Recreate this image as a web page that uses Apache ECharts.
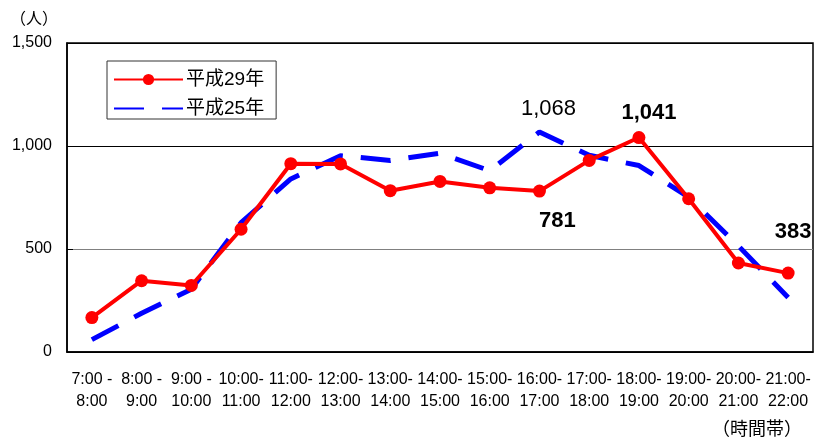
<!DOCTYPE html>
<html><head><meta charset="utf-8">
<script src="https://cdn.jsdelivr.net/npm/echarts@6/dist/echarts.min.js"></script>
<style>html,body{margin:0;padding:0;background:#fff}#c{width:817px;height:442px}</style>
</head><body><div id="c"></div>
<script>
const categories = ['7:00 -\n8:00','8:00 -\n9:00','9:00 -\n10:00','10:00-\n11:00','11:00-\n12:00','12:00-\n13:00','13:00-\n14:00','14:00-\n15:00','15:00-\n16:00','16:00-\n17:00','17:00-\n18:00','18:00-\n19:00','19:00-\n20:00','20:00-\n21:00','21:00-\n22:00'];
const seriesNames = ['平成29年','平成25年'];
const h29 = [167, 346, 323, 596, 914, 913, 783, 828, 797, 781, 930, 1041, 744, 432, 383];
const h25 = [60, 188, 305, 628, 840, 953, 930, 965, 880, 1068, 955, 905, 752, 515, 265];
const yTicks = [0, 500, 1000, 1500];

const FONT = '"Liberation Sans", Arial, "Noto Sans CJK JP", sans-serif';
const fmt = v => v.toLocaleString('en-US');

const labelH29 = {
  9: {position: 'bottom', distance: 12, offset: [18, 0]},
  11: {position: 'top', distance: 7, offset: [10, 0]},
  14: {position: 'top', distance: 24, offset: [5, 0]}
};
const h25LabelIdx = 9;

function build(vals, cfg, bold) {
  return vals.map((v, i) => {
    if (!cfg[i]) return v;
    return {value: v, label: Object.assign({show: true, formatter: fmt(v), color: '#000', fontSize: 22, fontWeight: bold ? 'bold' : 'normal', fontFamily: FONT}, cfg[i])};
  });
}

const chart = echarts.init(document.getElementById('c'), null, {renderer: 'canvas'});
chart.setOption({
  animation: false,
  backgroundColor: '#fff',
  textStyle: {fontFamily: FONT},
  grid: {left: 67, right: 4, top: 43, bottom: 90, show: true, borderColor: '#000', borderWidth: 1.5, backgroundColor: 'transparent'},
  graphic: [
    {type: 'text', left: 10, top: 12, style: {text: '（人）', font: '16px ' + FONT, fill: '#000'}},
    {type: 'text', left: 712, top: 421, style: {text: '（時間帯）', font: '18px ' + FONT, fill: '#000'}}
  ],
  legend: {
    data: seriesNames,
    orient: 'vertical',
    left: 107, top: 61,
    padding: [9, 12, 1, 6],
    itemGap: 10,
    itemWidth: 69, itemHeight: 14,
    borderColor: '#333', borderWidth: 1,
    textStyle: {fontSize: 19, color: '#000', fontFamily: FONT, padding: [0, 0, 0, -2]}
  },
  xAxis: {
    type: 'category',
    data: categories,
    boundaryGap: true,
    axisLine: {lineStyle: {color: '#000', width: 1.5}},
    axisTick: {inside: true, length: 5, lineStyle: {color: '#000'}},
    axisLabel: {interval: 0, fontSize: 16, color: '#000', margin: 17, lineHeight: 22, fontFamily: FONT},
    splitLine: {show: false}
  },
  yAxis: {
    type: 'value',
    min: yTicks[0], max: yTicks[yTicks.length - 1], interval: 500,
    axisLine: {show: true, lineStyle: {color: '#000', width: 1.5}},
    axisTick: {show: true, inside: true, length: 6, lineStyle: {color: '#000'}},
    axisLabel: {fontSize: 16, color: '#000', margin: 15, formatter: fmt, fontFamily: FONT},
    splitLine: {show: true, lineStyle: {color: ['#000', '#808080', '#000', '#000'], width: 1}}
  },
  series: [
    {
      name: seriesNames[0], type: 'line', data: build(h29, labelH29, true), z: 3,
      symbol: 'circle', symbolSize: 13,
      itemStyle: {color: '#ff0000'},
      lineStyle: {color: '#ff0000', width: 4}
    },
    {
      name: seriesNames[1], type: 'line', data: h25, z: 2,
      symbol: 'circle', symbolSize: 1, showSymbol: true,
      itemStyle: {color: '#0000ff', opacity: 0},
      lineStyle: {color: '#0000ff', width: 5, type: [30, 18], opacity: 1},
      markPoint: {
        symbol: 'circle', symbolSize: 0, silent: true,
        itemStyle: {opacity: 1},
        data: [{coord: [h25LabelIdx, h25[h25LabelIdx]], value: h25[h25LabelIdx]}],
        label: {show: true, position: 'top', distance: 12, offset: [9, 0], formatter: p => fmt(p.value), color: '#000', fontSize: 22, fontWeight: 'normal', fontFamily: FONT}
      }
    }
  ]
});
</script></body></html>
